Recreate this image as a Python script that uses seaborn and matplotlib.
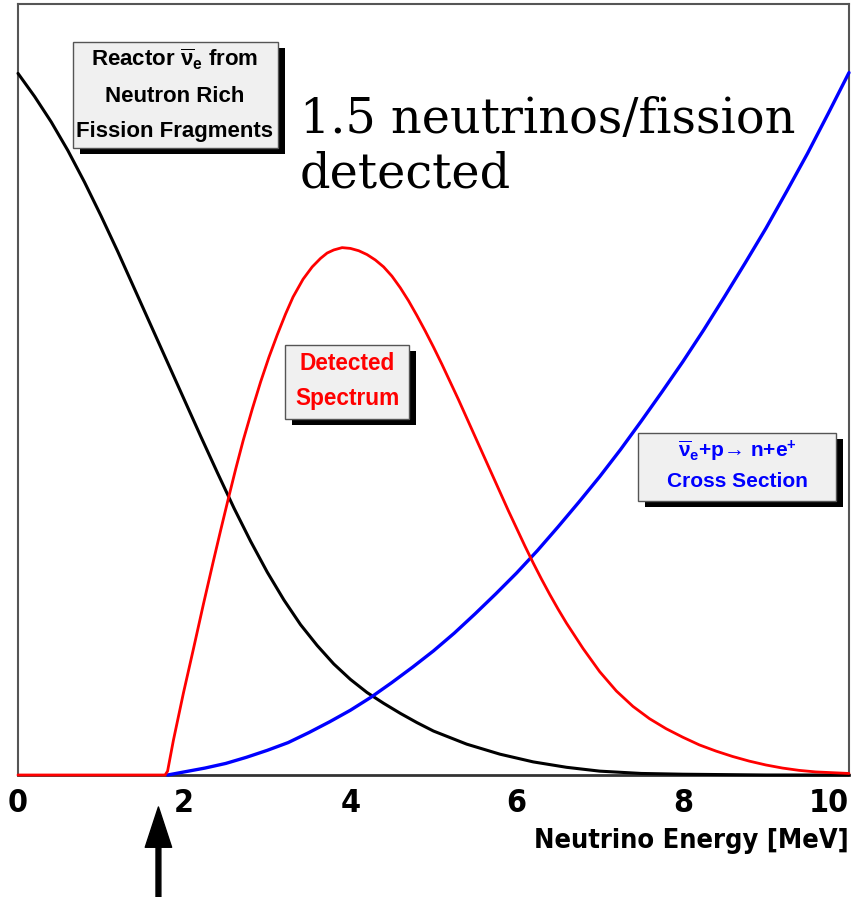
import numpy as np
import pandas as pd
import seaborn as sns
import matplotlib.pyplot as plt
from matplotlib.patches import Rectangle

# values (y normalised to the frame height)
reactor_E = [0.0, 0.2, 0.4, 0.6, 0.8, 1.0, 1.2, 1.4, 1.6, 1.8, 2.0, 2.2, 2.4,
             2.6, 2.8, 3.0, 3.2, 3.4, 3.6, 3.8, 4.0, 4.2, 4.4, 4.6, 4.8, 5.0,
             5.4, 5.8, 6.2, 6.6, 7.0, 7.5, 8.0, 9.0, 10.0]
reactor_flux = [0.910, 0.880, 0.847, 0.810, 0.769, 0.725, 0.679, 0.631, 0.583,
                0.535, 0.487, 0.439, 0.392, 0.346, 0.303, 0.263, 0.227, 0.195,
                0.168, 0.144, 0.124, 0.107, 0.093, 0.080, 0.068, 0.057, 0.040,
                0.027, 0.017, 0.010, 0.005, 0.002, 0.001, 0.0, 0.0]

xsec_E = [1.8, 2.0, 2.25, 2.5, 2.75, 3.0, 3.25, 3.5, 3.75, 4.0, 4.25, 4.5,
          4.75, 5.0, 5.25, 5.5, 5.75, 6.0, 6.25, 6.5, 6.75, 7.0, 7.25, 7.5,
          7.75, 8.0, 8.25, 8.5, 8.75, 9.0, 9.25, 9.5, 9.75, 10.0]
xsec = [0.0, 0.004, 0.009, 0.015, 0.023, 0.032, 0.042, 0.055, 0.069, 0.084,
        0.101, 0.120, 0.140, 0.161, 0.184, 0.209, 0.235, 0.262, 0.291, 0.322,
        0.354, 0.387, 0.422, 0.459, 0.497, 0.536, 0.577, 0.620, 0.664, 0.709,
        0.757, 0.806, 0.858, 0.911]

detected_E = [0.0, 1.0, 1.77, 1.80, 1.87, 1.99, 2.11, 2.23, 2.35, 2.44, 2.53,
              2.62, 2.71, 2.82, 2.92, 3.02, 3.12, 3.22, 3.31, 3.43, 3.54, 3.64,
              3.72, 3.80, 3.90, 4.0, 4.1, 4.2, 4.3, 4.4, 4.5, 4.6, 4.7, 4.8,
              4.9, 5.0, 5.1, 5.2, 5.3, 5.4, 5.5, 5.6, 5.7, 5.8, 5.9, 6.0, 6.1,
              6.2, 6.3, 6.4, 6.5, 6.6, 6.8, 7.0, 7.2, 7.4, 7.6, 7.8, 8.0, 8.2,
              8.4, 8.6, 8.8, 9.0, 9.2, 9.4, 9.6, 9.8, 10.0]
detected = [0.0, 0.0, 0.0, 0.005, 0.045, 0.106, 0.163, 0.221, 0.277, 0.318,
            0.358, 0.397, 0.434, 0.475, 0.510, 0.542, 0.571, 0.598, 0.620,
            0.643, 0.659, 0.670, 0.677, 0.681, 0.684, 0.683, 0.680, 0.675,
            0.668, 0.659, 0.647, 0.632, 0.615, 0.596, 0.576, 0.555, 0.533,
            0.510, 0.487, 0.463, 0.439, 0.415, 0.391, 0.367, 0.343, 0.320,
            0.297, 0.275, 0.254, 0.234, 0.215, 0.197, 0.164, 0.134, 0.109,
            0.089, 0.073, 0.060, 0.049, 0.039, 0.031, 0.024, 0.018, 0.013,
            0.009, 0.006, 0.004, 0.003, 0.002]

threshold = 1.69
major_ticks = [0, 2, 4, 6, 8, 10]

sns.set_style('white')
plt.rcParams['font.family'] = ['DejaVu Sans']
plt.rcParams['font.stretch'] = 'condensed'
plt.rcParams['mathtext.fontset'] = 'custom'
plt.rcParams['mathtext.rm'] = 'Liberation Sans:bold'
plt.rcParams['mathtext.it'] = 'Liberation Sans:bold'
plt.rcParams['text.color'] = 'black'
plt.rcParams['xtick.color'] = 'black'
plt.rcParams['axes.labelcolor'] = 'black'

W, H = 865, 897
fig = plt.figure(figsize=(W / 100, H / 100), dpi=100)
ax = fig.add_axes([18 / W, 1 - 775 / H, 831 / W, 771 / H])

sns.lineplot(x=reactor_E, y=reactor_flux, ax=ax, color='black', lw=2.2,
             clip_on=False, zorder=3)
sns.lineplot(x=xsec_E, y=xsec, ax=ax, color='#0000ff', lw=2.4,
             clip_on=False, zorder=3)
sns.lineplot(x=detected_E, y=detected, ax=ax, color='#ff0000', lw=2.0,
             clip_on=False, zorder=4)

ax.set_xlim(0, 10)
ax.set_ylim(0, 1)
ax.set_yticks([])
ax.set_xticks(major_ticks)
ax.set_xticks(np.arange(0, 10.01, 0.5), minor=True)
ax.tick_params(axis='x', which='major', direction='in', length=16, width=1.2,
               color='#333333', pad=9, labelsize=23)
ax.tick_params(axis='x', which='minor', direction='in', length=8.5, width=1.2,
               color='#333333')
for lbl in ax.get_xticklabels():
    lbl.set_fontweight('bold')
    lbl.set_fontstretch('condensed')
ax.get_xticklabels()[-1].set_horizontalalignment('right')
ax.set_xlabel('Neutrino Energy [MeV]', loc='right', fontsize=19.5,
              fontweight='bold', fontstretch='condensed', labelpad=7)
for side in ['top', 'right', 'left']:
    ax.spines[side].set_color('#555555')
    ax.spines[side].set_linewidth(1.5)
ax.spines['bottom'].set_color('#333333')
ax.spines['bottom'].set_linewidth(2)


def draw_box(x0, y0, x1, y1, dx=7, dy=6):
    shadow = Rectangle(((x0 + dx) / W, 1 - (y1 + dy) / H), (x1 - x0) / W,
                       (y1 - y0) / H, transform=fig.transFigure,
                       facecolor='black', edgecolor='none', zorder=5)
    box = Rectangle((x0 / W, 1 - y1 / H), (x1 - x0) / W, (y1 - y0) / H,
                    transform=fig.transFigure, facecolor='#f0f0f0',
                    edgecolor='#555555', lw=1, zorder=6)
    fig.add_artist(shadow)
    fig.add_artist(box)


def box_text(cx, cy, s, color, size):
    fig.text(cx / W, 1 - cy / H, s, ha='center', va='center', color=color,
             fontsize=size, fontweight='bold', fontstretch='normal',
             family=['Liberation Sans', 'DejaVu Sans'], zorder=7)


draw_box(73, 42, 278, 148)
box_text(175, 59, r'Reactor $\overline{\mathrm{\nu}}_{\mathrm{e}}$ from', 'black', 16)
box_text(175, 96, 'Neutron Rich', 'black', 16)
box_text(175, 131, 'Fission Fragments', 'black', 16)

draw_box(285, 345, 409, 419)
box_text(347, 363, 'Detected', '#ff0000', 16.3)
box_text(347, 398, 'Spectrum', '#ff0000', 16.3)

draw_box(638, 433, 836, 501)
box_text(737, 451, r'$\overline{\mathrm{\nu}}_{\mathrm{e}}$+p→ n+e$^{+}$', '#0000ff', 15)
box_text(737, 481, 'Cross Section', '#0000ff', 15)

fig.text(300 / W, 1 - 96 / H, '1.5 neutrinos/fission\ndetected',
         family='DejaVu Serif', fontstretch='normal', fontsize=34.4,
         ha='left', va='top', linespacing=1.19, color='black', zorder=8)

ax.annotate('', xy=(threshold, (775 - 807) / 771), xycoords=('data', 'axes fraction'),
            xytext=(threshold, (775 - 897) / 771), textcoords=('data', 'axes fraction'),
            arrowprops=dict(facecolor='black', edgecolor='black', width=3.5,
                            headwidth=19, headlength=29, shrink=0),
            annotation_clip=False)

fig.savefig('out.png', dpi=100, facecolor='white')
